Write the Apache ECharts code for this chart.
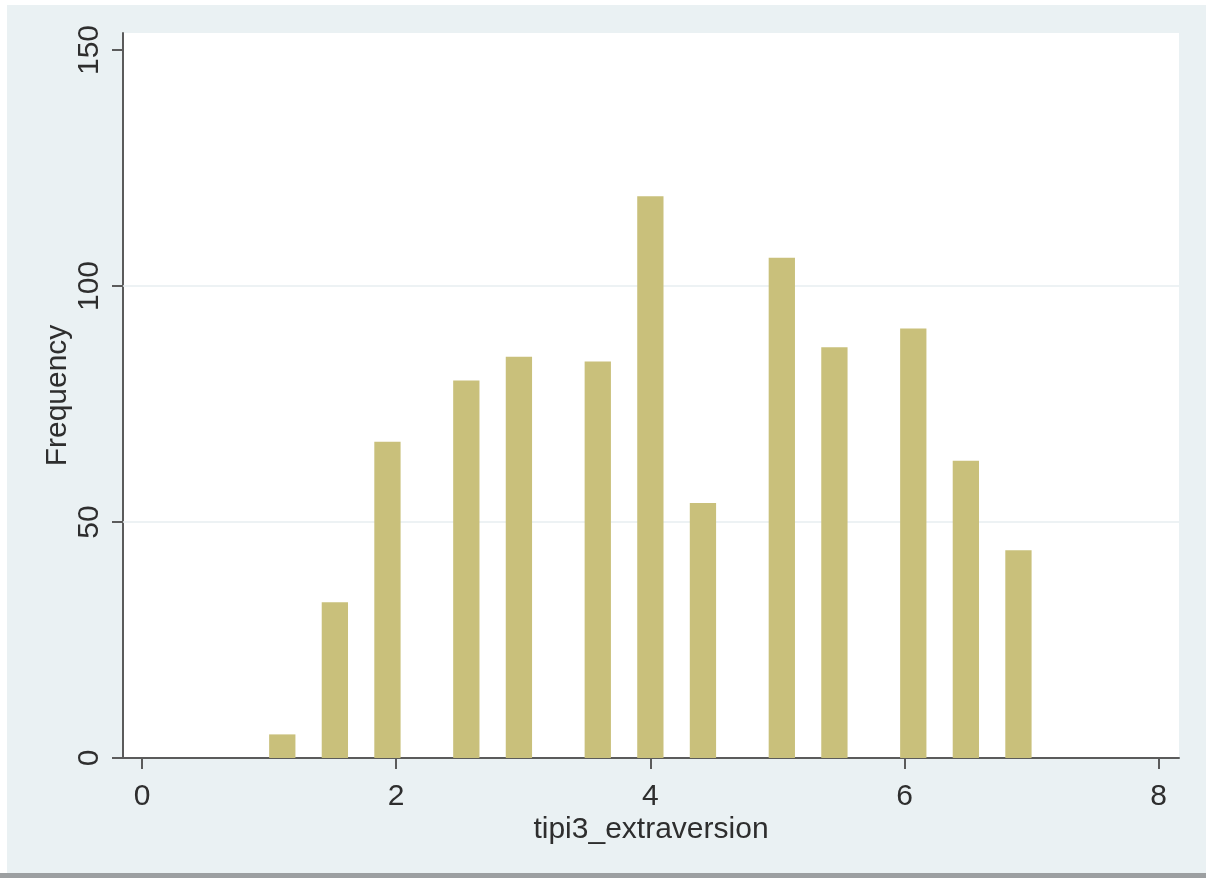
<!DOCTYPE html>
<html>
<head>
<meta charset="utf-8">
<title>tipi3_extraversion histogram</title>
<script src="https://cdn.jsdelivr.net/npm/echarts@6/dist/echarts.min.js"></script>
<style>
  html, body { margin: 0; padding: 0; background: #ffffff; }
  #frame { position: relative; width: 1206px; height: 878px; overflow: hidden; }
  #chart { position: absolute; left: 7px; top: 5px; width: 1199px; height: 868px; }
  #rule { position: absolute; left: 0; top: 873px; width: 1206px; height: 5px; background: #9c9fa1; }
</style>
</head>
<body>
<div id="frame">
  <div id="chart"></div>
  <div id="rule"></div>
</div>
<script>
// Score values of the variable and how many respondents had each
const scoreValues = [1, 1.5, 2, 2.5, 3, 3.5, 4, 4.5, 5, 5.5, 6, 6.5, 7];
const frequencies = [5, 33, 67, 80, 85, 84, 119, 54, 106, 87, 91, 63, 44];

// Histogram binning over the observed range
const binMin = 1;
const binMax = 7;
const binCount = 29;

// Axis ticks and grid lines
const xTickValues = [0, 2, 4, 6, 8];
const yTickValues = [0, 50, 100, 150];
const yGridValues = [50, 100];

const binWidth = (binMax - binMin) / binCount;
const binData = scoreValues.map(function (v, i) {
  const idx = Math.min(Math.floor((v - binMin) / binWidth + 1e-9), binCount - 1);
  const start = binMin + idx * binWidth;
  return [start, start + binWidth, frequencies[i]];
});

const textColor = '#2e2e2e';
const axisColor = '#5b5b5b';
const fontFamily = '"Liberation Sans", Arial, sans-serif';
const fontSize = 30;

const chart = echarts.init(document.getElementById('chart'), null, { renderer: 'canvas' });

chart.setOption({
  backgroundColor: '#eaf1f3',
  animation: false,
  textStyle: { fontFamily: fontFamily },
  grid: {
    left: 116, top: 28, right: 27, bottom: 115,
    show: true, backgroundColor: '#ffffff', borderWidth: 0
  },
  xAxis: {
    type: 'value',
    min: -0.15,
    max: 8.16,
    name: 'tipi3_extraversion',
    nameLocation: 'middle',
    nameGap: 57,
    nameMoveOverlap: false,
    nameTextStyle: { color: textColor, fontSize: fontSize, fontFamily: fontFamily },
    axisLine: { show: true, onZero: false, lineStyle: { color: axisColor, width: 2 } },
    axisTick: { show: true, length: 11, lineStyle: { color: axisColor, width: 2 }, customValues: xTickValues },
    axisLabel: { color: textColor, fontSize: fontSize, fontFamily: fontFamily, margin: 24, customValues: xTickValues },
    splitLine: { show: false }
  },
  yAxis: {
    type: 'value',
    min: 0,
    max: 153.6,
    name: 'Frequency',
    nameLocation: 'middle',
    nameGap: 50,
    nameRotate: 90,
    nameMoveOverlap: false,
    nameTextStyle: { color: textColor, fontSize: fontSize, fontFamily: fontFamily },
    axisLine: { show: true, onZero: false, lineStyle: { color: axisColor, width: 2 } },
    axisTick: { show: true, length: 11, lineStyle: { color: axisColor, width: 2 }, customValues: yTickValues },
    axisLabel: { color: textColor, fontSize: fontSize, fontFamily: fontFamily, rotate: 90, margin: 18, customValues: yTickValues },
    splitLine: { show: false }
  },
  series: [
    {
      // horizontal reference lines behind the bars
      type: 'line',
      data: [],
      z: 1,
      silent: true,
      markLine: {
        z: 1,
        silent: true,
        symbol: 'none',
        label: { show: false },
        lineStyle: { color: '#e7eef0', width: 1.5, type: 'solid' },
        data: yGridValues.map(function (v) { return { yAxis: v }; })
      }
    },
    {
      type: 'custom',
      z: 3,
      data: binData,
      encode: { x: [0, 1], y: 2 },
      renderItem: function (params, api) {
        const topLeft = api.coord([api.value(0), api.value(2)]);
        const bottomRight = api.coord([api.value(1), 0]);
        return {
          type: 'rect',
          shape: {
            x: topLeft[0],
            y: topLeft[1],
            width: bottomRight[0] - topLeft[0],
            height: bottomRight[1] - topLeft[1]
          },
          style: { fill: '#c9c07b' }
        };
      }
    }
  ]
});
</script>
</body>
</html>
